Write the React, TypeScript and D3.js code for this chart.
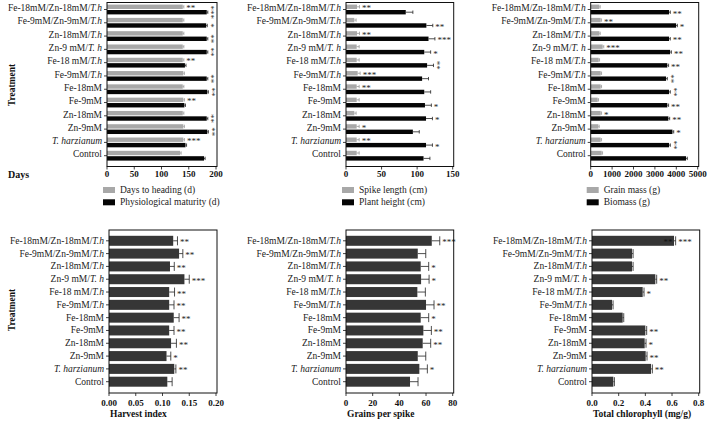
import * as d3 from "d3";

// treatment rows, top to bottom
const treatments = [
  "Fe-18mM/Zn-18mM/T.h",
  "Fe-9mM/Zn-9mM/T.h",
  "Zn-18mM/T.h",
  "Zn-9 mM/T. h",
  "Fe-18 mM/T.h",
  "Fe-9mM/T.h",
  "Fe-18mM",
  "Fe-9mM",
  "Zn-18mM",
  "Zn-9mM",
  "T. harzianum",
  "Control",
];

// panel 1: days
const daysHeading = [139, 139, 139, 139, 139, 140, 139, 140, 139, 140, 140, 134];
const daysHeadingErr = [2, 2, 2, 2, 2, 2, 2, 2, 2, 2, 2, 2];
const daysHeadingStars = ["**", "", "", "", "**", "", "", "**", "", "", "***", ""];
const maturity = [183, 182, 183, 183, 143, 183, 184, 142, 183, 184, 144, 178];
const maturityErr = [2, 2, 2, 2, 2, 2, 2, 2, 2, 2, 2, 2];
const maturityStars = ["***", "*", "**", "**", "", "**", "**", "", "**", "**", "", ""];
const maturityVertical = [true, true, true, true, false, true, true, false, true, true, false, false];

// panel 2: spike length / plant height
const spikeLength = [15.5, 11.7, 15.5, 15, 15, 16.4, 15, 15, 11.7, 15, 15, 15];
const spikeLengthErr = [3.5, 2.5, 3.5, 3.5, 3.5, 3.5, 3.5, 3.5, 2.5, 3.5, 3.5, 3.5];
const spikeLengthStars = ["**", "", "**", "", "", "***", "**", "", "", "*", "**", ""];
const plantHeight = [84, 113, 116, 110, 114, 107, 110, 111, 112.5, 94, 112.5, 109];
const plantHeightErr = [10, 9, 9, 9, 9, 9, 9, 9, 9, 9, 9, 9];
const plantHeightStars = ["", "**", "***", "*", "**", "", "", "*", "*", "", "*", ""];
const plantHeightVertical = [false, false, false, false, true, false, false, false, false, false, false, false];

// panel 3: grain mass / biomass
const grainMass = [405, 467, 405, 560, 374, 467, 467, 327, 467, 358, 467, 514];
const grainMassErr = [40, 40, 40, 50, 40, 40, 40, 40, 40, 40, 40, 40];
const grainMassStars = ["", "**", "", "***", "", "", "", "", "*", "", "", ""];
const biomass = [3660, 3990, 3660, 3710, 3580, 3520, 3660, 3580, 3630, 3820, 3660, 4455];
const biomassErr = [60, 60, 60, 60, 60, 60, 60, 60, 60, 60, 60, 60];
const biomassStars = ["**", "*", "**", "**", "**", "**", "**", "**", "**", "*", "**", ""];
const biomassVertical = [false, false, false, false, false, true, true, false, false, false, true, false];

// panel 4: harvest index
const harvestIndex = [0.12, 0.131, 0.114, 0.141, 0.1125, 0.1125, 0.121, 0.1125, 0.116, 0.1075, 0.122, 0.109];
const harvestIndexErr = [0.008, 0.007, 0.008, 0.009, 0.01, 0.009, 0.01, 0.009, 0.01, 0.008, 0.003, 0.009];
const harvestIndexStars = ["**", "**", "**", "***", "**", "**", "**", "**", "**", "*", "**", ""];

// panel 5: grains per spike
const grainsPerSpike = [64.3, 53.8, 56, 56.3, 53.5, 60, 56, 58, 57.5, 53.8, 55, 48];
const grainsPerSpikeErr = [6, 6, 6, 6, 6, 6, 6, 6, 6, 6, 6, 6];
const grainsPerSpikeStars = ["***", "", "*", "*", "", "**", "*", "**", "**", "", "*", ""];

// panel 6: total chlorophyll
const chlorophyll = [0.615, 0.3, 0.3, 0.475, 0.38, 0.15, 0.23, 0.4, 0.395, 0.4025, 0.4425, 0.16];
const chlorophyllErr = [0.012, 0.008, 0.008, 0.01, 0.01, 0.008, 0.008, 0.01, 0.01, 0.01, 0.01, 0.008];
const chlorophyllStars = ["***", "", "", "**", "*", "", "", "**", "*", "**", "**", ""];
const chlorophyllInnerStars = ["**", "", "", "", "", "", "", "", "", "", "", ""];

const FONT = "Liberation Serif";

type Series = {
  values: number[];
  errors: number[];
  stars: string[];
  vertical?: boolean[];
  inner?: string[];
  fill: string;
  errColor: string;
  offset: number;
  height: number;
};

type PanelProps = {
  x0: number;
  x1: number;
  max: number;
  ticks: number[];
  fmt: (v: number) => string;
  frameTop: number;
  axisY: number;
  rowRange: [number, number];
  labelDy: number;
  tickLabelDy: number;
  series: Series[];
  title?: string;
  legend?: { label: string; fill: string }[];
};

function Label({ text, x, y }: { text: string; x: number; y: number }) {
  const m = text.match(/^(.*?)(T\.\s?h.*)$/);
  return (
    <text x={x} y={y} textAnchor="end" dominantBaseline="central" fontSize={9.5} fill="#222" style={{ fontFamily: FONT }}>
      {m ? (
        <>
          {m[1] && <tspan>{m[1]}</tspan>}
          <tspan fontStyle="italic">{m[2]}</tspan>
        </>
      ) : (
        text
      )}
    </text>
  );
}

function Panel(p: PanelProps) {
  const x = d3.scaleLinear().domain([0, p.max]).range([p.x0, p.x1]);
  const y = d3.scalePoint<string>().domain(treatments).range(p.rowRange);
  return (
    <g>
      {p.series.map((s, si) => (
        <g key={si}>
          {treatments.map((t, i) => {
            const cy = (y(t) as number) + s.offset;
            const xe = x(s.values[i] + s.errors[i]);
            const vert = s.vertical ? s.vertical[i] : false;
            return (
              <g key={t}>
                <rect x={x(0)} y={cy - s.height / 2} width={x(s.values[i]) - x(0)} height={s.height} fill={s.fill} />
                <line x1={x(s.values[i])} x2={xe} y1={cy} y2={cy} stroke={s.errColor} strokeWidth={0.8} />
                <line x1={xe} x2={xe} y1={cy - s.height / 2 + 0.5} y2={cy + s.height / 2 - 0.5} stroke={s.errColor} strokeWidth={0.8} />
                {s.inner && s.inner[i] && (
                  <text x={x(s.values[i]) - 1.5} y={cy + 4.5} textAnchor="end" fontSize={9} fill="#111" style={{ fontFamily: FONT }}>
                    {s.inner[i]}
                  </text>
                )}
                {s.stars[i] &&
                  (vert ? (
                    <text transform={`translate(${xe + 5},${cy}) rotate(90)`} y={4.5} textAnchor="middle" fontSize={9} fill="#222" style={{ fontFamily: FONT }}>
                      {s.stars[i]}
                    </text>
                  ) : (
                    <text x={xe + 2.5} y={cy + 4.5} fontSize={9} fill="#222" style={{ fontFamily: FONT }}>
                      {s.stars[i]}
                    </text>
                  ))}
              </g>
            );
          })}
        </g>
      ))}
      <rect x={p.x0} y={p.frameTop} width={p.x1 + 1 - p.x0} height={p.axisY - p.frameTop} fill="none" stroke="#111" strokeWidth={1} />
      {treatments.map((t) => (
        <g key={t}>
          <line x1={p.x0 - 3} x2={p.x0} y1={y(t)} y2={y(t)} stroke="#111" strokeWidth={0.8} />
          <Label text={t} x={p.x0 - 5} y={(y(t) as number) + p.labelDy} />
        </g>
      ))}
      {p.ticks.map((tk) => (
        <g key={tk}>
          <line x1={x(tk)} x2={x(tk)} y1={p.axisY} y2={p.axisY + 3} stroke="#111" strokeWidth={0.8} />
          <text x={x(tk)} y={p.axisY + p.tickLabelDy} textAnchor="middle" dominantBaseline="central" fontSize={9} fontWeight="bold" fill="#111" style={{ fontFamily: FONT }}>
            {p.fmt(tk)}
          </text>
        </g>
      ))}
      {p.title && (
        <text x={p.x0 + 1} y={p.axisY + 21} dominantBaseline="central" fontSize={9.5} fontWeight="bold" fill="#111" style={{ fontFamily: FONT }}>
          {p.title}
        </text>
      )}
      {p.legend &&
        p.legend.map((l, i) => (
          <g key={l.label}>
            <rect x={p.x0 - 4} y={p.axisY + 20.5 + i * 12.3} width={12} height={6} fill={l.fill} />
            <text x={p.x0 + 13} y={p.axisY + 23.5 + i * 12.3} dominantBaseline="central" fontSize={9.5} fill="#222" style={{ fontFamily: FONT }}>
              {l.label}
            </text>
          </g>
        ))}
    </g>
  );
}

const GRAY = "#a8a8a8";
const BLACK = "#050505";
const DARK = "#363636";

export default function App() {
  const top = { frameTop: 2.5, axisY: 166.5, rowRange: [9.5, 155.7] as [number, number], labelDy: -1.3, tickLabelDy: 7.5 };
  const bottom = { frameTop: 230, axisY: 393, rowRange: [240.8, 381.7] as [number, number], labelDy: 0, tickLabelDy: 10 };
  const grayS = { fill: GRAY, errColor: "#999", offset: -2.7, height: 4.4 };
  const blackS = { fill: BLACK, errColor: "#222", offset: 2.7, height: 4.4 };
  const darkS = { fill: DARK, errColor: "#222", offset: 0, height: 10 };
  const bold = { fontSize: 9.5, fontWeight: "bold", fill: "#111", style: { fontFamily: FONT } };
  return (
    <svg width={708} height={424} style={{ position: "absolute", left: 0, top: 0, background: "#fff" }}>
      <rect width={708} height={424} fill="#fff" />
      <text transform="translate(12,85) rotate(-90)" textAnchor="middle" dominantBaseline="central" {...bold}>
        Treatment
      </text>
      <text transform="translate(12,310) rotate(-90)" textAnchor="middle" dominantBaseline="central" {...bold}>
        Treatment
      </text>
      <text x={8} y={174} dominantBaseline="central" {...bold} fontSize={10}>
        Days
      </text>

      <Panel
        x0={107} x1={216} max={200} ticks={[0, 50, 100, 150, 200]} fmt={d3.format("d")} {...top}
        series={[
          { values: daysHeading, errors: daysHeadingErr, stars: daysHeadingStars, ...grayS },
          { values: maturity, errors: maturityErr, stars: maturityStars, vertical: maturityVertical, ...blackS },
        ]}
        legend={[{ label: "Days to heading (d)", fill: GRAY }, { label: "Physiological maturity (d)", fill: BLACK }]}
      />
      <Panel
        x0={346} x1={452.7} max={150} ticks={[0, 50, 100, 150]} fmt={d3.format("d")} {...top}
        series={[
          { values: spikeLength, errors: spikeLengthErr, stars: spikeLengthStars, ...grayS },
          { values: plantHeight, errors: plantHeightErr, stars: plantHeightStars, vertical: plantHeightVertical, ...blackS },
        ]}
        legend={[{ label: "Spike length (cm)", fill: GRAY }, { label: "Plant height (cm)", fill: BLACK }]}
      />
      <Panel
        x0={590.7} x1={697.7} max={5000} ticks={[0, 1000, 2000, 3000, 4000, 5000]} fmt={d3.format("d")} {...top}
        series={[
          { values: grainMass, errors: grainMassErr, stars: grainMassStars, ...grayS },
          { values: biomass, errors: biomassErr, stars: biomassStars, vertical: biomassVertical, ...blackS },
        ]}
        legend={[{ label: "Grain mass (g)", fill: GRAY }, { label: "Biomass (g)", fill: BLACK }]}
      />

      <Panel
        x0={109} x1={216} max={0.2} ticks={[0, 0.05, 0.1, 0.15, 0.2]} fmt={d3.format(".2f")} {...bottom}
        series={[{ values: harvestIndex, errors: harvestIndexErr, stars: harvestIndexStars, ...darkS }]}
        title="Harvest index"
      />
      <Panel
        x0={346} x1={452.7} max={80} ticks={[0, 20, 40, 60, 80]} fmt={d3.format("d")} {...bottom}
        series={[{ values: grainsPerSpike, errors: grainsPerSpikeErr, stars: grainsPerSpikeStars, ...darkS }]}
        title="Grains per spike"
      />
      <Panel
        x0={592} x1={698.7} max={0.8} ticks={[0, 0.2, 0.4, 0.6, 0.8]} fmt={d3.format(".1f")} {...bottom}
        series={[{ values: chlorophyll, errors: chlorophyllErr, stars: chlorophyllStars, inner: chlorophyllInnerStars, ...darkS }]}
        title="Total chlorophyll (mg/g)"
      />
    </svg>
  );
}
